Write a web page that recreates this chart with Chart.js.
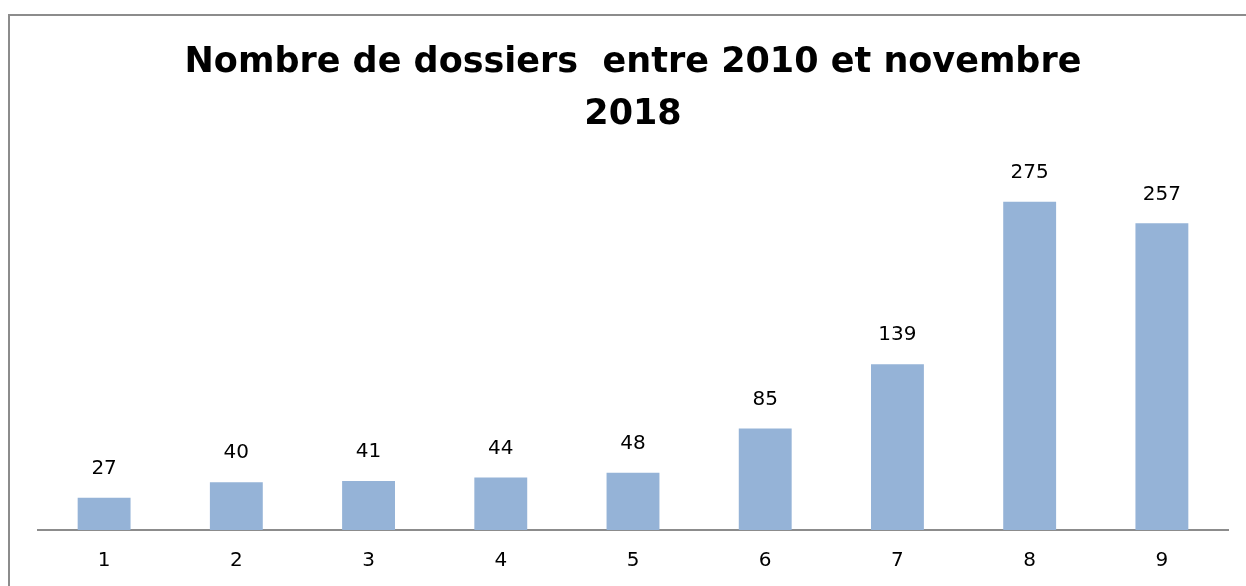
<!DOCTYPE html>
<html>
<head>
<meta charset="utf-8">
<script src="https://cdn.jsdelivr.net/npm/chart.js@4"></script>
<style>
  html, body { margin: 0; padding: 0; background: #fff; }
  #frame { position: absolute; left: 8px; top: 14px; width: 1300px; height: 700px;
           border-left: 2px solid #8c8c8c; border-top: 2px solid #8c8c8c; }
  #wrap { position: absolute; left: 0; top: 0; width: 1246px; height: 586px; }
</style>
</head>
<body>
<div id="frame"></div>
<div id="wrap"><canvas id="dossiersChart" width="1246" height="586"></canvas></div>
<script>
const categories = ['1', '2', '3', '4', '5', '6', '7', '8', '9'];
const dossiers = [27, 40, 41, 44, 48, 85, 139, 275, 257];
const titleLines = ['Nombre de dossiers  entre 2010 et novembre', '2018'];

// étiquettes de valeur au-dessus des barres
const valueLabels = {
    id: 'valueLabels',
    afterDatasetsDraw(chart) {
        const ctx = chart.ctx;
        const meta = chart.getDatasetMeta(0);
        ctx.save();
        ctx.font = '20px "DejaVu Sans"';
        ctx.fillStyle = '#000';
        ctx.textAlign = 'center';
        ctx.textBaseline = 'bottom';
        meta.data.forEach((bar, i) => {
            ctx.fillText(String(dossiers[i]), bar.x, bar.y - 19);
        });
        ctx.restore();
    }
};

const ctx = document.getElementById('dossiersChart').getContext('2d');
const dossiersChart = new Chart(ctx, {
    type: 'bar',
    data: {
        labels: categories,
        datasets: [{
            label: 'Dossiers',
            data: dossiers,
            backgroundColor: '#95b3d7',
            borderWidth: 0,
            barPercentage: 0.4,
            categoryPercentage: 1
        }]
    },
    options: {
        responsive: false,
        animation: false,
        layout: {
            padding: { top: 28, left: 38, right: 18, bottom: 0 }
        },
        plugins: {
            legend: { display: false },
            tooltip: { enabled: false },
            title: {
                display: true,
                text: titleLines,
                color: '#000',
                font: { family: 'DejaVu Sans', size: 35, weight: 'bold', lineHeight: 1.486 },
                padding: { top: 9, bottom: 31 }
            }
        },
        scales: {
            y: {
                display: false,
                min: 0,
                max: 300
            },
            x: {
                grid: { display: false },
                border: { display: true, color: '#8c8c8c', width: 2 },
                ticks: {
                    color: '#000',
                    font: { family: 'DejaVu Sans', size: 20 },
                    padding: 11
                },
                afterFit(scale) {
                    scale.height = 56;
                }
            }
        }
    },
    plugins: [valueLabels]
});
</script>
</body>
</html>
